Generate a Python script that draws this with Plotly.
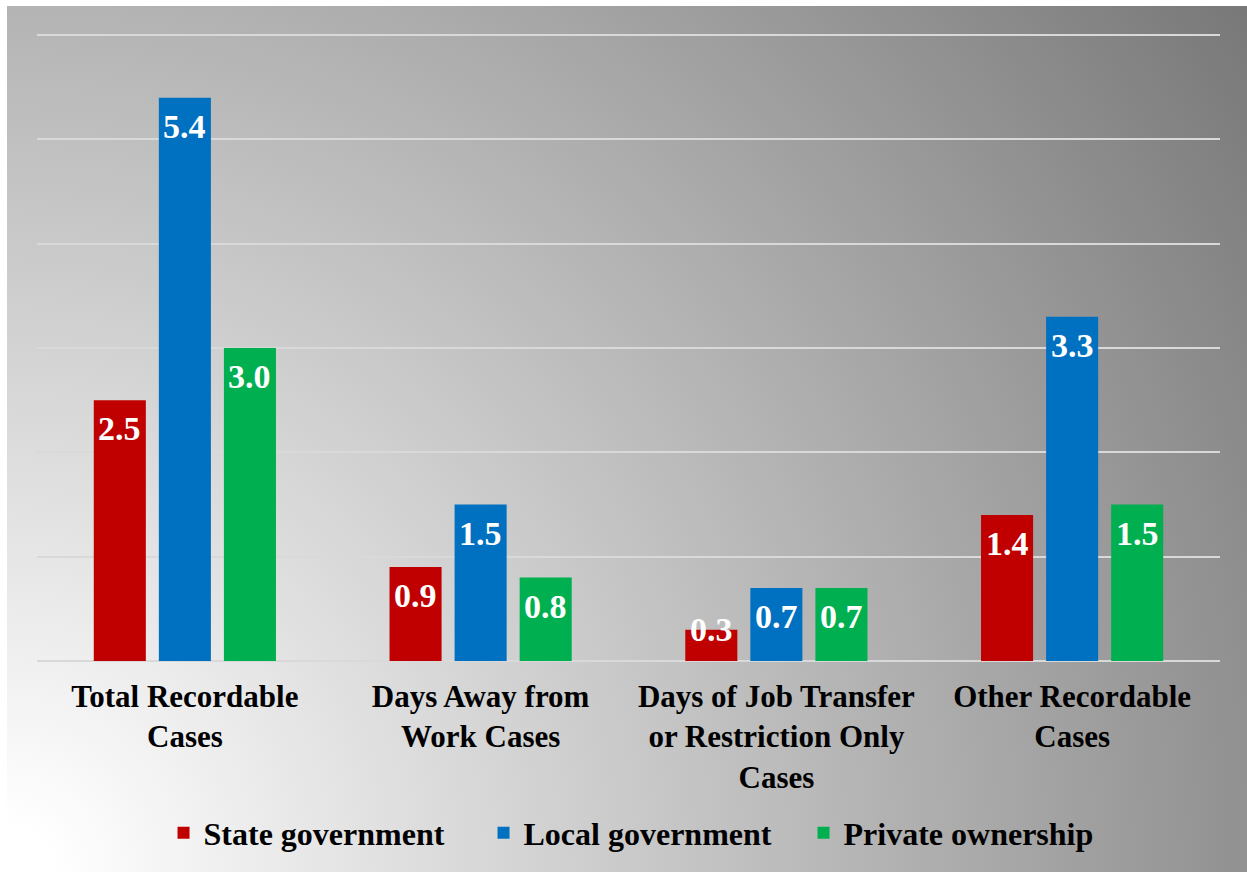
import base64
import plotly.graph_objects as go

# Injury/illness incidence rates by case type and ownership
categories = [
    "Total Recordable<br>Cases",
    "Days Away from<br>Work Cases",
    "Days of Job Transfer<br>or Restriction Only<br>Cases",
    "Other Recordable<br>Cases",
]
state_government = [2.5, 0.9, 0.3, 1.4]
local_government = [5.4, 1.5, 0.7, 3.3]
private_ownership = [3.0, 0.8, 0.7, 1.5]

series = [
    ("State government", state_government, "#C00000"),
    ("Local government", local_government, "#0070C0"),
    ("Private ownership", private_ownership, "#00B050"),
]

SERIF = "Liberation Serif, Times New Roman, serif"
BARGAP = 0.34
BARGROUPGAP = 0.2
# small headroom so the top gridline (6) is not dropped at the plot edge
Y_RANGE = [0, 6.03]
PLOT_W, PLOT_H = 1183, 629
TOP, BOTTOM = 32, 211
PX_PER_UNIT = PLOT_H / (Y_RANGE[1] - Y_RANGE[0])

fig = go.Figure()
for name, values, color in series:
    fig.add_trace(go.Bar(
        name=name,
        x=categories,
        y=values,
        marker=dict(color=color, line=dict(width=0)),
    ))

# Value labels just inside the top of each bar; labels that cannot fit
# inside a short bar are centred on its top edge instead.
slot = (1 - BARGAP) / len(series)
for k, (name, values, color) in enumerate(series):
    offset = (k - (len(series) - 1) / 2) * slot
    for i, v in enumerate(values):
        fits = v * PX_PER_UNIT > 45
        fig.add_annotation(
            x=i + offset, y=v,
            xref="x", yref="y",
            text=f"{v:.1f}",
            showarrow=False,
            yanchor="top" if fits else "middle",
            yshift=-8 if fits else 0,
            font=dict(family=SERIF, size=34, color="white", weight="bold"),
        )

# Radial grey backdrop fading from the lower-left corner
W, H = 1240, 866
svg = f"""<svg xmlns="http://www.w3.org/2000/svg" width="{W}" height="{H}" viewBox="0 0 {W} {H}" preserveAspectRatio="none">
<defs><radialGradient id="g" gradientUnits="userSpaceOnUse" cx="0" cy="{H}" r="1512">
<stop offset="0" stop-color="#ffffff"/><stop offset="0.03" stop-color="#ffffff"/>
<stop offset="1" stop-color="#787878"/></radialGradient></defs>
<rect x="0" y="0" width="{W}" height="{H}" fill="url(#g)"/></svg>"""
bg_src = "data:image/svg+xml;base64," + base64.b64encode(svg.encode()).decode()

fig.add_layout_image(dict(
    source=bg_src,
    xref="paper", yref="paper",
    x=-30 / PLOT_W, y=(PLOT_H + TOP - 6) / PLOT_H,
    sizex=W / PLOT_W, sizey=H / PLOT_H,
    xanchor="left", yanchor="top",
    sizing="stretch", layer="below",
))

fig.update_layout(
    width=1247, height=872,
    margin=dict(l=37, r=27, t=TOP, b=BOTTOM),
    paper_bgcolor="white",
    plot_bgcolor="rgba(0,0,0,0)",
    barmode="group",
    bargap=BARGAP,
    bargroupgap=BARGROUPGAP,
    showlegend=True,
    legend=dict(
        orientation="h",
        x=0.5127, xanchor="center",
        y=-172 / PLOT_H, yanchor="middle",
        bgcolor="rgba(0,0,0,0)",
        font=dict(family=SERIF, size=32, color="black", weight="bold"),
        entrywidth=275,
        entrywidthmode="pixels",
    ),
    xaxis=dict(
        showgrid=False,
        showline=False,
        ticks="",
        tickfont=dict(family=SERIF, size=31, color="black", weight="bold"),
        ticklabelstandoff=14,
    ),
    yaxis=dict(
        range=Y_RANGE,
        dtick=1,
        showticklabels=False,
        showgrid=True,
        gridcolor="#d9d9d9",
        gridwidth=2,
        zeroline=True,
        zerolinecolor="#d9d9d9",
        zerolinewidth=2,
        showline=False,
    ),
)

fig.write_html("out.html")
